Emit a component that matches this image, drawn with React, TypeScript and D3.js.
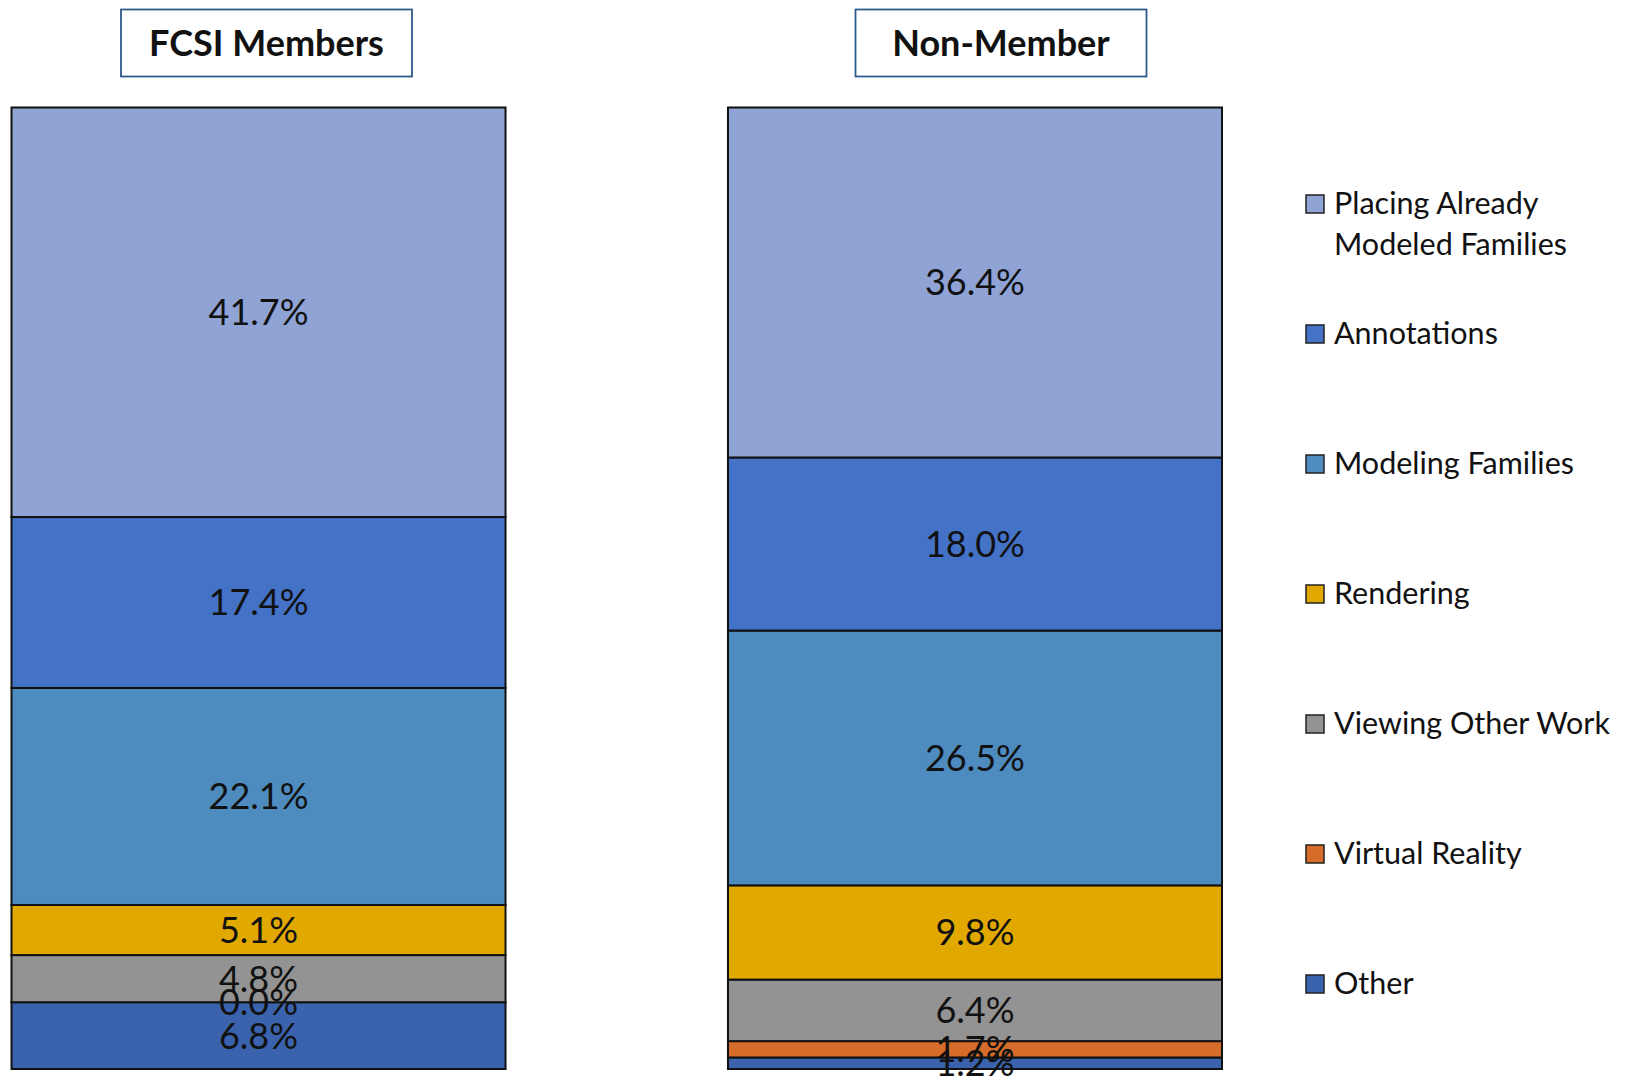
import React, { useEffect, useRef } from 'react';
import * as d3 from 'd3';

// categories, bottom of the stack last
const categories = [
    'Placing Already Modeled Families',
    'Annotations',
    'Modeling Families',
    'Rendering',
    'Viewing Other Work',
    'Virtual Reality',
    'Other',
];
const legendLines = [
    ['Placing Already', 'Modeled Families'],
    ['Annotations'],
    ['Modeling Families'],
    ['Rendering'],
    ['Viewing Other Work'],
    ['Virtual Reality'],
    ['Other'],
];
const colors = ['#8FA3D5', '#4472C6', '#4E8BBF', '#E1A900', '#939393', '#D56C2A', '#3B63AD'];

const groups = ['FCSI Members', 'Non-Member'];
const fcsiValues = [41.7, 17.4, 22.1, 5.1, 4.8, 0.0, 6.8];
const nonMemberValues = [36.4, 18.0, 26.5, 9.8, 6.4, 1.7, 1.2];

const W = 1638;
const H = 1080;

const App: React.FC = () => {
    const svgRef = useRef<SVGSVGElement>(null);

    useEffect(() => {
        if (!svgRef.current) return;
        const svg = d3.select(svgRef.current);
        svg.selectAll('*').remove();

        const font = 'Lato, Carlito, Calibri, sans-serif';
        const seriesValues = [fcsiValues, nonMemberValues];

        const rows = groups.map((g, gi) => {
            const row: any = { group: g };
            categories.forEach((c, ci) => { row[c] = seriesValues[gi][ci]; });
            return row;
        });

        // stack from the bottom: "Other" first
        const stackKeys = categories.slice().reverse();
        const stacked = d3.stack<any>()
            .keys(stackKeys)
            .offset(d3.stackOffsetExpand)(rows);

        const x = d3.scaleBand<string>()
            .domain(groups)
            .range([11.5, 1222])
            .paddingInner(0.3105)
            .paddingOuter(0);

        const y = d3.scaleLinear()
            .domain([0, 1])
            .range([1069, 107.5]);

        const color = d3.scaleOrdinal<string, string>()
            .domain(categories)
            .range(colors);

        // segments
        const layer = svg.append('g');
        stacked.forEach(s => {
            layer.selectAll(null)
                .data(s)
                .enter()
                .append('rect')
                .attr('x', d => x(d.data.group)!)
                .attr('width', x.bandwidth())
                .attr('y', d => y(d[1]))
                .attr('height', d => y(d[0]) - y(d[1]))
                .attr('fill', color(s.key))
                .attr('stroke', '#111')
                .attr('stroke-width', 2);
        });

        // value labels
        stacked.forEach(s => {
            svg.append('g')
                .selectAll('text')
                .data(s)
                .enter()
                .append('text')
                .attr('x', d => x(d.data.group)! + x.bandwidth() / 2)
                .attr('y', d => y((d[0] + d[1]) / 2))
                .attr('dy', '0.36em')
                .attr('text-anchor', 'middle')
                .style('font-family', font)
                .style('font-size', '36px')
                .style('fill', '#111')
                .text(d => d3.format('.1f')(d.data[s.key]) + '%');
        });

        // titles in boxes
        const titleCenters = [266.5, 1001];
        groups.forEach((g, i) => {
            const t = svg.append('g').attr('transform', `translate(${titleCenters[i]},0)`);
            t.append('rect')
                .attr('x', -145.5)
                .attr('y', 9.5)
                .attr('width', 291)
                .attr('height', 67)
                .attr('fill', '#fff')
                .attr('stroke', '#2F5A8C')
                .attr('stroke-width', 1.8);
            t.append('text')
                .attr('y', 56)
                .attr('text-anchor', 'middle')
                .style('font-family', font)
                .style('font-weight', 'bold')
                .style('font-size', '36px')
                .style('fill', '#111')
                .text(g);
        });

        // legend
        const legend = svg.append('g').attr('transform', 'translate(1306,0)');
        categories.forEach((c, i) => {
            const baseline = 214 + i * 130;
            const item = legend.append('g');
            item.append('rect')
                .attr('x', 0)
                .attr('y', baseline - 19)
                .attr('width', 18)
                .attr('height', 18)
                .attr('fill', color(c))
                .attr('stroke', '#222')
                .attr('stroke-width', 1.5);
            const txt = item.append('text')
                .attr('x', 28)
                .attr('y', baseline)
                .style('font-family', font)
                .style('font-size', '30.5px')
                .style('fill', '#111');
            legendLines[i].forEach((line, li) => {
                txt.append('tspan')
                    .attr('x', 28)
                    .attr('dy', li === 0 ? 0 : 41)
                    .text(line);
            });
        });
    }, []);

    return (
        <div style={{ position: 'absolute', left: 0, top: 0 }}>
            <svg ref={svgRef} width={W} height={H} style={{ display: 'block', background: '#fff' }} />
        </div>
    );
};

export default App;
